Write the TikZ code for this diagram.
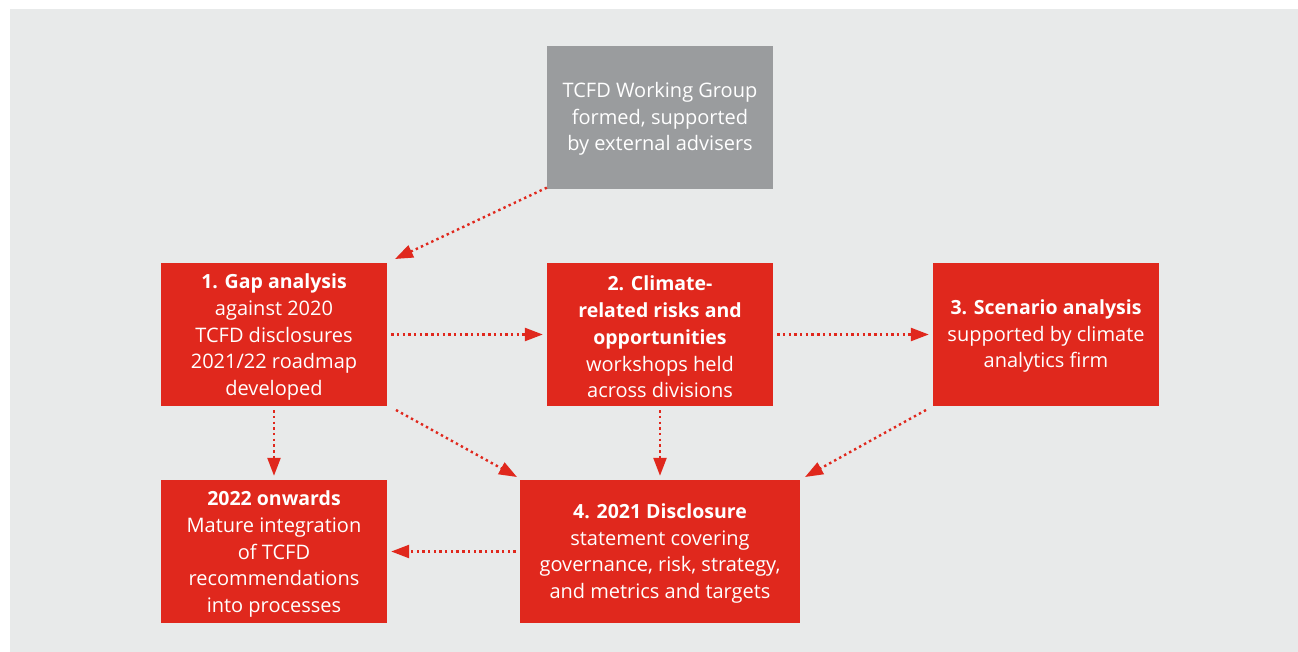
\documentclass[tikz,border=0pt]{standalone}
\usepackage{fontspec}
\setmainfont{Open Sans}
\usetikzlibrary{arrows.meta}
\definecolor{panel}{RGB}{232,234,234}
\definecolor{boxred}{RGB}{224,40,29}
\definecolor{boxgrey}{RGB}{154,156,158}
\newcommand{\hd}[1]{{\fontsize{19.5}{26.8}\selectfont\bfseries #1}}
\begin{document}
\begin{tikzpicture}[x=1pt,y=-1pt,
  card/.style={fill=boxred, inner sep=0pt,
    minimum width=226pt, minimum height=143pt},
  cardtext/.style={text=white, inner sep=0pt, align=center,
    font=\fontsize{20}{26.8}\selectfont},
  link/.style={draw=boxred, line width=2.4pt, dash pattern=on 2.4pt off 3.3pt,
    -{Triangle[length=18pt,width=13pt]}, shorten <=4pt, shorten >=4pt}]
  \useasboundingbox (0,0) rectangle (1298,652);
  \fill[panel] (10,9) rectangle (1298,652);

  % boxes
  \node[card, fill=boxgrey] (wg) at (660,117.5) {};
  \node[card] (gap) at (274,334.5) {};
  \node[card] (risk) at (660,334.5) {};
  \node[card] (scen) at (1046,334.5) {};
  \node[card] (onw) at (274,551.5) {};
  \node[card, minimum width=280pt] (disc) at (660,551.5) {};

  % box texts
  \node[cardtext] (wg-t) at ([yshift=-1.5pt]wg.center)
    {TCFD Working Group\\formed, supported\\by external advisers};
  \node[cardtext] (gap-t) at ([yshift=-2.5pt]gap.center)
    {\hd{1. Gap analysis}\\against 2020\\TCFD disclosures\\2021/22 roadmap\\developed};
  \node[cardtext] (risk-t) at ([yshift=-2.5pt]risk.center)
    {\hd{2. Climate-}\\\hd{related risks and}\\\hd{opportunities}\\workshops held\\across divisions};
  \node[cardtext] (scen-t) at ([yshift=-1.5pt]scen.center)
    {\hd{3. Scenario analysis}\\supported by climate\\analytics firm};
  \node[cardtext] (onw-t) at ([yshift=-2.5pt]onw.center)
    {\hd{2022 onwards}\\Mature integration\\of TCFD\\recommendations\\into processes};
  \node[cardtext] (disc-t) at ([yshift=-2pt]disc.center)
    {\hd{4. 2021 Disclosure}\\statement covering\\governance, risk, strategy,\\and metrics and targets};

  % connectors
  \coordinate (a1e) at (395,259);
  \coordinate (a4s) at (396,410);  \coordinate (a4e) at (517,477);
  \coordinate (a6s) at (926,410);  \coordinate (a6e) at (805,477);

  \draw[link, shorten <=1pt, shorten >=0pt] (wg.south west) ++(1,-2) -- (a1e);
  \draw[link] (gap.east) -- (risk.west);
  \draw[link] (risk.east) -- (scen.west);
  \draw[link, shorten <=0pt, shorten >=0pt] (a4s) -- (a4e);
  \draw[link] (risk.south) -- (disc.north);
  \draw[link, shorten <=0pt, shorten >=0pt] (a6s) -- (a6e);
  \draw[link] (gap.south) -- (onw.north);
  \draw[link] (disc.west) -- (onw.east);
\end{tikzpicture}
\end{document}
